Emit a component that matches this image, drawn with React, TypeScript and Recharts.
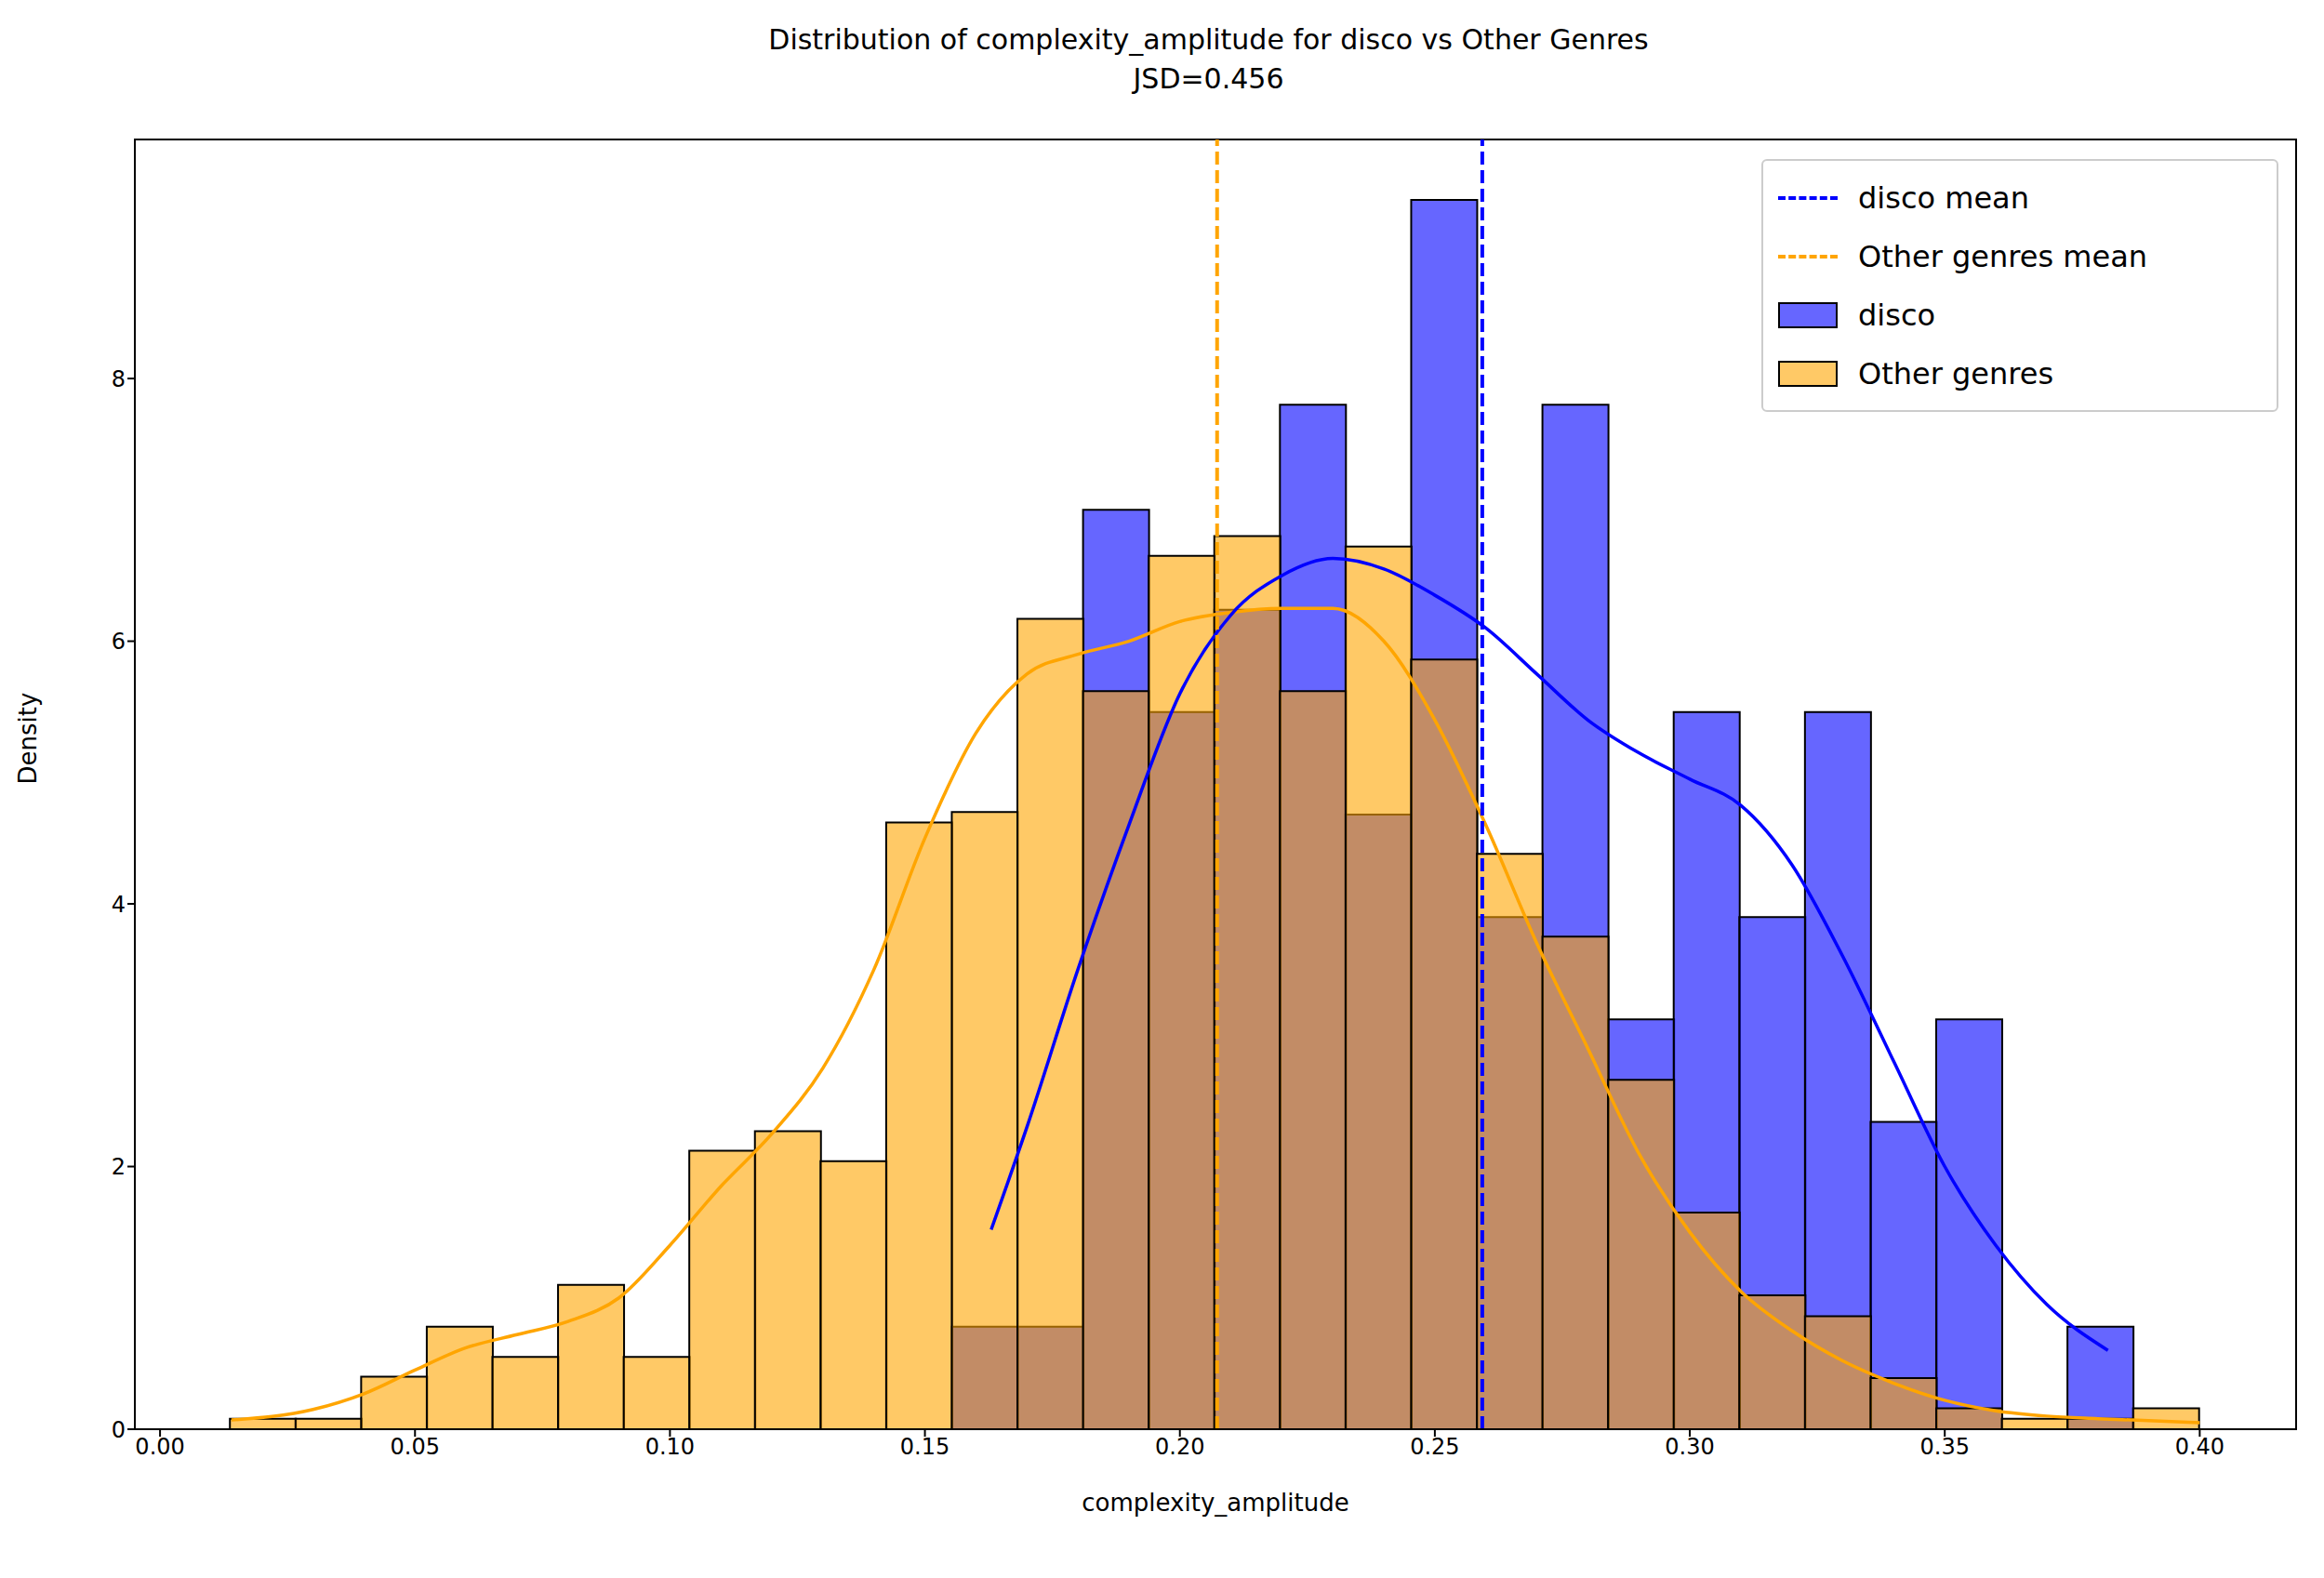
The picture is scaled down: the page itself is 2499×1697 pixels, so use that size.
import { Bar, ComposedChart, Line, ReferenceLine, XAxis, YAxis } from 'recharts'

const binStart = 0.0137
const binWidth = 0.01287
const otherValues = [0.08, 0.08, 0.4, 0.78, 0.55, 1.1, 0.55, 2.12, 2.27, 2.04, 4.62, 4.7, 6.17, 5.62, 6.65, 6.8, 5.62, 6.72, 5.86, 4.38, 3.75, 2.66, 1.65, 1.02, 0.86, 0.39, 0.16, 0.08, 0.08, 0.16]
const discoValues = [0, 0, 0, 0, 0, 0, 0, 0, 0, 0, 0, 0.78, 0.78, 7.0, 5.46, 6.24, 7.8, 4.68, 9.36, 3.9, 7.8, 3.12, 5.46, 3.9, 5.46, 2.34, 3.12, 0, 0.78, 0]
const otherKde = [[0.014, 0.07], [0.03, 0.15], [0.04, 0.27], [0.05, 0.45], [0.06, 0.62], [0.07, 0.72], [0.08, 0.82], [0.09, 1.0], [0.1, 1.4], [0.11, 1.85], [0.12, 2.25], [0.13, 2.75], [0.14, 3.5], [0.15, 4.5], [0.16, 5.3], [0.17, 5.75], [0.18, 5.9], [0.19, 6.0], [0.2, 6.15], [0.21, 6.22], [0.22, 6.25], [0.23, 6.25], [0.24, 6.0], [0.25, 5.4], [0.26, 4.6], [0.27, 3.7], [0.28, 2.9], [0.29, 2.1], [0.3, 1.5], [0.31, 1.05], [0.32, 0.75], [0.33, 0.52], [0.34, 0.35], [0.35, 0.22], [0.36, 0.14], [0.37, 0.1], [0.38, 0.08], [0.4, 0.05]]
const discoKde = [[0.163, 1.52], [0.17, 2.3], [0.18, 3.5], [0.19, 4.6], [0.2, 5.6], [0.21, 6.2], [0.22, 6.5], [0.23, 6.63], [0.24, 6.55], [0.25, 6.35], [0.26, 6.1], [0.27, 5.75], [0.28, 5.4], [0.29, 5.15], [0.3, 4.95], [0.31, 4.75], [0.32, 4.3], [0.33, 3.6], [0.34, 2.8], [0.35, 2.0], [0.36, 1.4], [0.37, 0.95], [0.382, 0.6]]
const xTicks = [0, 0.05, 0.1, 0.15, 0.2, 0.25, 0.3, 0.35, 0.4]
const yTicks = [0, 2, 4, 6, 8]
const discoMean = 0.2593
const otherMean = 0.2073

const bins = otherValues.map((v, i) => ({ x: binStart + binWidth * (i + 0.5), other: v, disco: discoValues[i] }))
const otherLine = otherKde.map(([x, y]) => ({ x, y }))
const discoLine = discoKde.map(([x, y]) => ({ x, y }))

const domainX: [number, number] = [-0.00494, 0.4189]
const font = 'DejaVu Sans'
const tick = { fontSize: 24, fill: '#000', fontFamily: font }

function LegendRow({ kind, color, label }: { kind: 'line' | 'box'; color: string; label: string }) {
  return (
    <div style={{ display: 'flex', alignItems: 'center', height: 63 }}>
      {kind === 'line' ? (
        <div style={{ width: 64, borderTop: `4px dashed ${color}`, marginRight: 22 }} />
      ) : (
        <div style={{ width: 60, height: 24, background: color, border: '2px solid #000', marginRight: 22 }} />
      )}
      <span>{label}</span>
    </div>
  )
}

export default function App() {
  return (
    <div style={{ position: 'absolute', left: 0, top: 0, width: 2499, height: 1697, background: '#fff', fontFamily: font }}>
      <div style={{ position: 'absolute', top: 22, width: 2499, left: 50, textAlign: 'center', fontSize: 30, lineHeight: '42px' }}>
        Distribution of complexity_amplitude for disco vs Other Genres<br />JSD=0.456
      </div>
      <ComposedChart width={2499} height={1697} data={bins} margin={{ top: 150, right: 30, left: 0, bottom: 0 }} barCategoryGap={0} barGap={0}>
        <XAxis xAxisId="a" dataKey="x" type="number" domain={domainX} allowDataOverflow ticks={xTicks}
          tickFormatter={(v: number) => v.toFixed(2)} tick={tick} tickSize={8} height={160}
          stroke="#000" strokeWidth={2}
          label={{ value: 'complexity_amplitude', position: 'insideTop', offset: 70, fontSize: 26, fill: '#000', fontFamily: font }} />
        <XAxis xAxisId="b" dataKey="x" type="number" domain={domainX} allowDataOverflow hide />
        <XAxis xAxisId="c" dataKey="x" type="number" domain={domainX} allowDataOverflow hide />
        <YAxis domain={[0, 9.82]} ticks={yTicks} tick={tick} tickSize={8} width={145} stroke="#000" strokeWidth={2}
          label={{ value: 'Density', angle: -90, position: 'insideLeft', offset: 30, fontSize: 26, fill: '#000', fontFamily: font }} />
        <Bar xAxisId="a" dataKey="disco" fill="#0000ff" fillOpacity={0.6} stroke="#000" strokeWidth={2} isAnimationActive={false} />
        <Bar xAxisId="b" dataKey="other" fill="#ffa500" fillOpacity={0.6} stroke="#000" strokeWidth={2} isAnimationActive={false} />
        <Line xAxisId="c" data={otherLine} dataKey="y" type="monotone" stroke="#ffa500" strokeWidth={3.5} dot={false} isAnimationActive={false} />
        <Line xAxisId="c" data={discoLine} dataKey="y" type="monotone" stroke="#0000ff" strokeWidth={3.5} dot={false} isAnimationActive={false} />
        <ReferenceLine xAxisId="a" x={otherMean} stroke="#ffa500" strokeWidth={4} strokeDasharray="14 6" />
        <ReferenceLine xAxisId="a" x={discoMean} stroke="#0000ff" strokeWidth={4} strokeDasharray="14 6" />
        <rect x={145} y={150} width={2324} height={1387} fill="none" stroke="#000" strokeWidth={2} />
      </ComposedChart>
      <div style={{ position: 'absolute', left: 1894, top: 171, width: 520, padding: '8px 16px', border: '2px solid #ccc', borderRadius: 6, background: 'rgba(255,255,255,0.8)', fontSize: 32 }}>
        <LegendRow kind="line" color="#0000ff" label="disco mean" />
        <LegendRow kind="line" color="#ffa500" label="Other genres mean" />
        <LegendRow kind="box" color="rgba(0,0,255,0.6)" label="disco" />
        <LegendRow kind="box" color="rgba(255,165,0,0.6)" label="Other genres" />
      </div>
    </div>
  )
}
